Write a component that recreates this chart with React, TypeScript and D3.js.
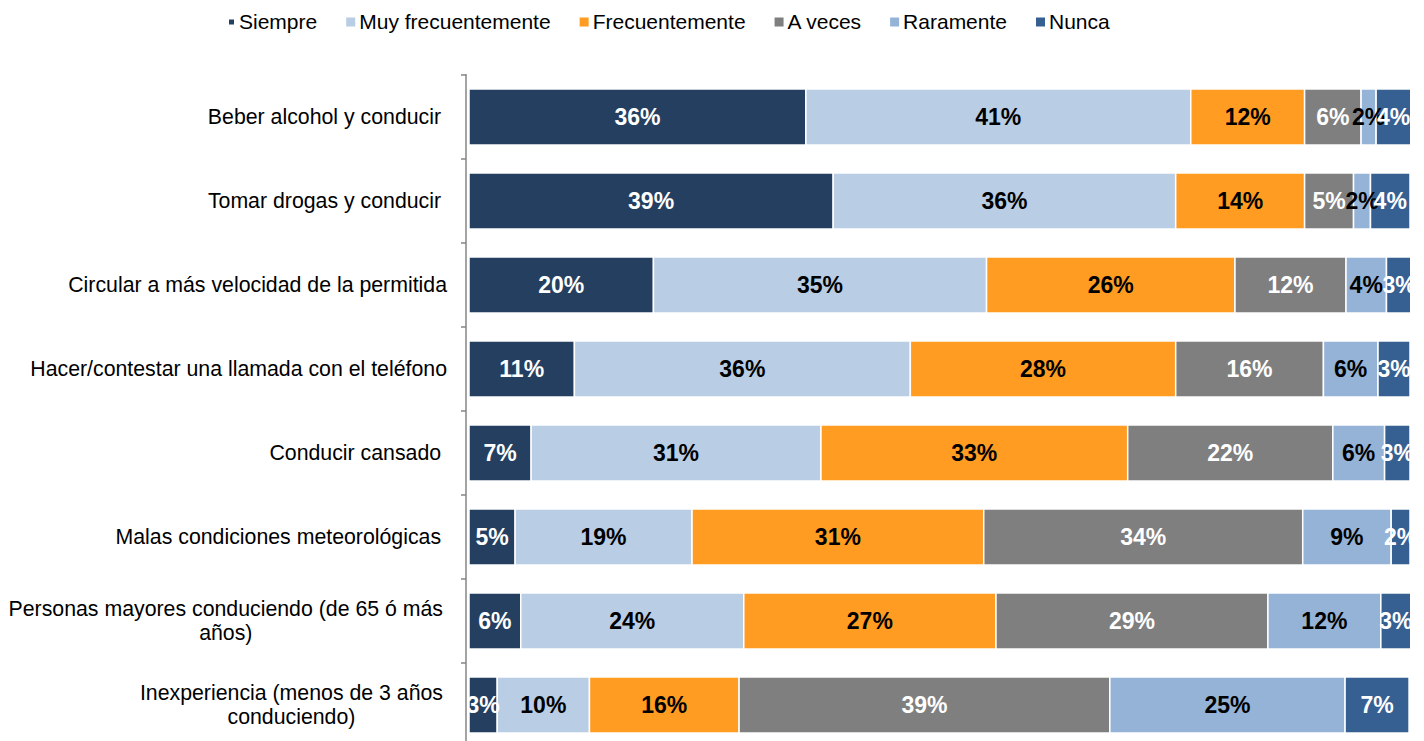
import React, { useEffect, useRef } from "react";
import * as d3 from "d3";

const categoryLines: string[][] = [
  ["Beber alcohol y conducir "],
  ["Tomar drogas y conducir "],
  ["Circular a más velocidad de la permitida"],
  ["Hacer/contestar una llamada con el teléfono"],
  ["Conducir cansado "],
  ["Malas condiciones meteorológicas "],
  ["Personas mayores conduciendo (de 65 ó más", "años)"],
  ["Inexperiencia (menos de 3 años", "conduciendo)"],
];

const seriesNames = ["Siempre", "Muy frecuentemente", "Frecuentemente", "A veces", "Raramente", "Nunca"];

const siempre = [35.8, 38.7, 19.6, 11.2, 6.6, 4.9, 5.5, 3.0];
const muyFrecuentemente = [40.9, 36.4, 35.4, 35.7, 30.8, 18.8, 23.7, 9.8];
const frecuentemente = [12.1, 13.7, 26.4, 28.2, 32.6, 31.0, 26.8, 15.9];
const aVeces = [6.0, 5.2, 11.8, 15.7, 21.8, 33.9, 28.9, 39.4];
const raramente = [1.6, 1.8, 4.3, 5.8, 5.5, 9.4, 12.0, 25.0];
const nunca = [3.7, 4.2, 2.7, 3.4, 2.7, 2.0, 3.2, 6.8];

const seriesValues = [siempre, muyFrecuentemente, frecuentemente, aVeces, raramente, nunca];
const seriesColors = ["#243F60", "#B9CDE5", "#FF9C21", "#7F7F7F", "#95B3D7", "#376092"];
const labelColors = ["#FFFFFF", "#000000", "#000000", "#FFFFFF", "#000000", "#FFFFFF"];

const FONT = "'Liberation Sans', Arial, sans-serif";

export default function App() {
  const ref = useRef<SVGSVGElement>(null);

  useEffect(() => {
    const svg = d3.select(ref.current!);
    svg.selectAll("*").remove();

    const H = 741;
    const left = 469;
    const right = 1410;
    const axisX = 466;
    const textSize = 21.3;

    const x = d3.scaleLinear().domain([0, 100]).range([left, right]);
    const keys = categoryLines.map((_, i) => String(i));
    const y = d3.scaleBand<string>().domain(keys).range([75, 747]).paddingInner(0.333).paddingOuter(0.1665);

    const defs = svg.append("defs");
    defs.append("clipPath").attr("id", "plotClip")
      .append("rect").attr("x", left - 2).attr("y", 0).attr("width", right - left + 2).attr("height", H);

    const rows = keys.map((k, i) => {
      const obj: any = { key: k };
      seriesNames.forEach((s, j) => (obj[s] = seriesValues[j][i]));
      return obj;
    });
    const stacked = d3.stack<any>().keys(seriesNames)(rows);

    const plot = svg.append("g").attr("clip-path", "url(#plotClip)");

    stacked.forEach((layer, si) => {
      plot.append("g").selectAll("rect").data(layer).join("rect")
        .attr("x", (d) => x(d[0]))
        .attr("y", (d) => y(d.data.key)!)
        .attr("width", (d) => Math.max(0, x(d[1]) - x(d[0])))
        .attr("height", y.bandwidth())
        .attr("fill", seriesColors[si])
        .attr("stroke", "#FFFFFF")
        .attr("stroke-width", 1.5);
    });

    stacked.forEach((layer, si) => {
      plot.append("g").selectAll("text").data(layer).join("text")
        .attr("x", (d) => (x(d[0]) + x(d[1])) / 2)
        .attr("y", (d) => y(d.data.key)! + y.bandwidth() / 2)
        .attr("dy", "0.36em")
        .attr("text-anchor", "middle")
        .attr("font-family", FONT)
        .attr("font-weight", "bold")
        .attr("font-size", 23)
        .attr("fill", labelColors[si])
        .text((d) => `${Math.round(d[1] - d[0])}%`);
    });

    // Axis
    const axis = svg.append("g");
    axis.append("line")
      .attr("x1", axisX).attr("x2", axisX)
      .attr("y1", y.range()[0] - 1).attr("y2", H)
      .attr("stroke", "#868686").attr("stroke-width", 1.5);
    const step = y.step();
    const boundaries = d3.range(keys.length + 1).map((i) => y(keys[0])! - step * y.paddingOuter() + i * step);
    axis.selectAll("line.tick").data(boundaries).join("line")
      .attr("class", "tick")
      .attr("x1", axisX - 5).attr("x2", axisX)
      .attr("y1", (d) => d).attr("y2", (d) => d)
      .attr("stroke", "#868686").attr("stroke-width", 1.5);

    // Category labels
    const catG = svg.append("g");
    categoryLines.forEach((lines, i) => {
      const cy = y(keys[i])! + y.bandwidth() / 2;
      if (lines.length === 1) {
        catG.append("text")
          .attr("x", 447).attr("y", cy).attr("dy", "0.35em")
          .attr("text-anchor", "end")
          .attr("font-family", FONT).attr("font-size", textSize)
          .style("white-space", "pre")
          .attr("xml:space", "preserve")
          .attr("fill", "#000")
          .text(lines[0]);
      } else {
        const lh = 24;
        const texts = lines.map((ln, li) =>
          catG.append("text")
            .attr("y", cy + (li - (lines.length - 1) / 2) * lh).attr("dy", "0.35em")
            .attr("text-anchor", "middle")
            .attr("font-family", FONT).attr("font-size", textSize)
            .attr("fill", "#000")
            .text(ln)
        );
        const maxW = d3.max(texts, (t) => (t.node() as SVGTextElement).getComputedTextLength()) || 0;
        texts.forEach((t) => t.attr("x", 443 - maxW / 2));
      }
    });

    // Legend
    const legend = svg.append("g");
    let lx = 226;
    seriesNames.forEach((name, i) => {
      const size = i === 0 ? 5 : 9;
      legend.append("rect")
        .attr("x", lx + (9 - size) / 2 + (i === 0 ? 1 : 0)).attr("y", 22 - size / 2)
        .attr("width", size).attr("height", size)
        .attr("fill", seriesColors[i]);
      const t = legend.append("text")
        .attr("x", lx + 13).attr("y", 22).attr("dy", "0.35em")
        .attr("font-family", FONT).attr("font-size", 21)
        .attr("fill", "#000")
        .text(name);
      const w = (t.node() as SVGTextElement).getComputedTextLength();
      lx = lx + 13 + w + 29;
    });
  }, []);

  return (
    <svg
      ref={ref}
      width={1424}
      height={741}
      style={{ position: "absolute", left: 0, top: 0, background: "#FFFFFF" }}
    />
  );
}
